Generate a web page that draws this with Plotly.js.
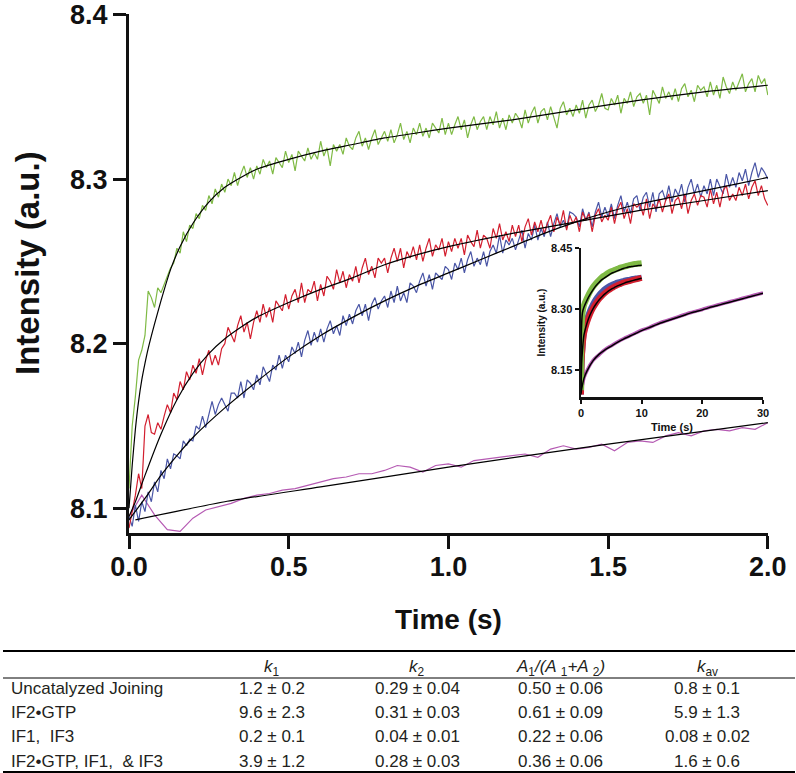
<!DOCTYPE html>
<html>
<head>
<meta charset="utf-8">
<script src="https://cdn.plot.ly/plotly-3.0.1.min.js"></script>
<style>
html,body{margin:0;padding:0;background:#fff;}
#chart{width:796px;height:773px;}
</style>
</head>
<body>
<div id="chart"></div>
<script>
// ---------------- main panel data (time step 0.01 s, from 0 to 2.0 s) ----------------
const greenData = [
8.112,8.150,8.168,8.190,8.196,8.205,8.232,8.228,8.222,8.234,
8.231,8.236,8.240,8.246,8.249,8.258,8.255,8.268,8.262,8.272,
8.270,8.279,8.276,8.284,8.281,8.290,8.285,8.294,8.289,8.297,
8.292,8.300,8.296,8.304,8.296,8.303,8.308,8.301,8.307,8.300,
8.308,8.303,8.312,8.307,8.311,8.303,8.313,8.310,8.307,8.317,
8.310,8.315,8.305,8.317,8.314,8.311,8.319,8.312,8.316,8.312,
8.323,8.314,8.319,8.308,8.321,8.317,8.321,8.315,8.325,8.320,
8.318,8.325,8.329,8.320,8.325,8.318,8.325,8.330,8.321,8.325,
8.329,8.323,8.330,8.322,8.327,8.334,8.324,8.329,8.322,8.331,
8.327,8.334,8.326,8.331,8.325,8.334,8.331,8.328,8.337,8.327,
8.334,8.327,8.333,8.338,8.330,8.336,8.325,8.333,8.338,8.330,
8.335,8.338,8.330,8.338,8.333,8.341,8.331,8.337,8.330,8.339,
8.334,8.340,8.337,8.331,8.342,8.334,8.340,8.344,8.334,8.341,
8.343,8.336,8.344,8.338,8.331,8.343,8.347,8.339,8.343,8.338,
8.345,8.340,8.348,8.337,8.345,8.348,8.341,8.345,8.352,8.343,
8.342,8.349,8.345,8.351,8.340,8.349,8.346,8.353,8.344,8.350,
8.352,8.346,8.351,8.339,8.354,8.350,8.346,8.356,8.349,8.353,
8.348,8.355,8.347,8.355,8.358,8.350,8.354,8.347,8.357,8.354,
8.356,8.350,8.359,8.351,8.357,8.349,8.362,8.356,8.352,8.359,
8.354,8.359,8.364,8.353,8.358,8.361,8.353,8.363,8.358,8.361,8.351
];
const redData = [
8.088,8.098,8.108,8.121,8.112,8.150,8.157,8.146,8.145,8.152,
8.148,8.156,8.163,8.158,8.170,8.166,8.177,8.172,8.183,8.178,
8.187,8.182,8.191,8.181,8.190,8.196,8.187,8.193,8.187,8.197,
8.200,8.210,8.206,8.201,8.211,8.217,8.207,8.213,8.203,8.213,
8.220,8.213,8.224,8.216,8.222,8.213,8.226,8.223,8.220,8.230,
8.221,8.229,8.233,8.225,8.237,8.225,8.233,8.231,8.238,8.226,
8.236,8.229,8.241,8.238,8.233,8.245,8.237,8.244,8.234,8.242,
8.238,8.247,8.237,8.246,8.252,8.242,8.247,8.240,8.252,8.249,
8.252,8.243,8.252,8.258,8.250,8.258,8.246,8.256,8.252,8.259,
8.251,8.260,8.250,8.258,8.264,8.253,8.260,8.257,8.264,8.253,
8.262,8.256,8.264,8.258,8.264,8.254,8.266,8.262,8.259,8.269,
8.258,8.266,8.264,8.258,8.270,8.264,8.273,8.263,8.268,8.262,
8.272,8.265,8.272,8.262,8.271,8.276,8.266,8.274,8.268,8.275,
8.267,8.273,8.278,8.268,8.277,8.272,8.281,8.269,8.278,8.273,
8.277,8.268,8.280,8.275,8.279,8.268,8.278,8.282,8.274,8.278,
8.275,8.283,8.273,8.282,8.286,8.276,8.282,8.273,8.285,8.283,
8.285,8.278,8.288,8.276,8.285,8.282,8.288,8.280,8.287,8.291,
8.279,8.287,8.289,8.282,8.291,8.279,8.287,8.291,8.284,8.290,
8.289,8.283,8.294,8.285,8.292,8.283,8.293,8.296,8.287,8.291,
8.287,8.295,8.290,8.297,8.288,8.295,8.299,8.290,8.296,8.288,8.284
];
const blueData = [
8.095,8.089,8.102,8.092,8.104,8.098,8.110,8.104,8.116,8.110,
8.123,8.118,8.130,8.124,8.133,8.132,8.130,8.141,8.138,8.142,
8.141,8.150,8.148,8.156,8.149,8.158,8.165,8.157,8.163,8.167,
8.163,8.159,8.170,8.170,8.167,8.177,8.167,8.178,8.176,8.172,
8.181,8.175,8.186,8.182,8.177,8.187,8.184,8.193,8.185,8.193,
8.189,8.198,8.194,8.201,8.192,8.202,8.208,8.199,8.207,8.201,
8.209,8.201,8.209,8.214,8.206,8.211,8.205,8.217,8.211,8.218,
8.212,8.220,8.224,8.217,8.224,8.214,8.224,8.228,8.221,8.226,
8.229,8.222,8.232,8.225,8.235,8.226,8.231,8.225,8.237,8.235,
8.231,8.238,8.243,8.235,8.242,8.233,8.243,8.241,8.239,8.247,
8.245,8.239,8.249,8.245,8.252,8.243,8.251,8.256,8.247,8.252,
8.248,8.256,8.247,8.256,8.260,8.255,8.266,8.255,8.263,8.260,
8.264,8.257,8.263,8.269,8.258,8.267,8.263,8.272,8.263,8.270,
8.265,8.274,8.265,8.273,8.279,8.271,8.275,8.270,8.280,8.279,
8.277,8.271,8.282,8.275,8.280,8.271,8.280,8.286,8.277,8.283,
8.277,8.285,8.276,8.284,8.290,8.280,8.286,8.279,8.288,8.290,
8.281,8.289,8.292,8.283,8.292,8.280,8.291,8.293,8.287,8.296,
8.286,8.294,8.290,8.297,8.286,8.295,8.300,8.291,8.297,8.289,
8.296,8.291,8.300,8.290,8.300,8.296,8.291,8.303,8.295,8.301,
8.295,8.304,8.299,8.306,8.296,8.304,8.310,8.301,8.307,8.304,8.300
];
// magenta trace: coarser sampling, step 0.04 s
const magentaData = [
8.095,8.108,8.096,8.087,8.086,8.094,8.099,8.101,8.103,8.106,
8.108,8.109,8.111,8.112,8.114,8.116,8.118,8.119,8.121,8.121,
8.123,8.126,8.125,8.122,8.126,8.127,8.125,8.129,8.130,8.131,
8.132,8.133,8.131,8.136,8.138,8.136,8.137,8.139,8.135,8.140,
8.141,8.140,8.144,8.146,8.144,8.147,8.148,8.147,8.149,8.148,8.152
];
// fitted curves (main panel)
const greenFitT = [0,0.01,0.02,0.03,0.04,0.05,0.06,0.08,0.10,0.13,0.16,0.20,0.25,0.30,0.35,0.40,0.50,0.60,0.70,0.80,0.90,1.00,1.20,1.40,1.60,1.80,2.00];
const greenFitV = [8.100,8.126,8.148,8.165,8.178,8.188,8.197,8.212,8.226,8.245,8.259,8.273,8.286,8.295,8.301,8.306,8.312,8.317,8.321,8.325,8.328,8.331,8.336,8.342,8.348,8.353,8.357];
const redFitT = [0,0.02,0.05,0.10,0.15,0.20,0.25,0.30,0.35,0.40,0.50,0.60,0.70,0.80,0.90,1.00,1.20,1.40,1.60,1.80,2.00];
const redFitV = [8.095,8.104,8.120,8.145,8.166,8.182,8.194,8.203,8.210,8.216,8.225,8.233,8.240,8.248,8.254,8.259,8.267,8.274,8.281,8.287,8.293];
const blueFitT = [0,0.05,0.10,0.15,0.20,0.30,0.40,0.50,0.60,0.70,0.80,0.90,1.00,1.10,1.20,1.30,1.40,1.50,1.60,1.70,1.80,1.90,2.00];
const blueFitV = [8.093,8.106,8.120,8.132,8.143,8.161,8.177,8.192,8.205,8.216,8.226,8.235,8.243,8.251,8.259,8.267,8.274,8.280,8.285,8.289,8.293,8.297,8.301];
const magentaFitT = [0.02,0.30,0.60,1.00,1.50,2.00];
const magentaFitV = [8.093,8.104,8.113,8.125,8.139,8.152];

// ---------------- inset data (0-30 s) ----------------
const insetFastT = [0,0.1,0.25,0.5,1,1.5,2,2.5,3,3.5,4,4.5,5,5.5,6,6.5,7,7.5,8,8.5,9,9.5,10];
const insetGreen    = [8.100,8.250,8.290,8.310,8.328,8.343,8.355,8.364,8.372,8.379,8.384,8.389,8.393,8.396,8.399,8.402,8.404,8.406,8.408,8.410,8.411,8.412,8.413];
const insetGreenFit = [8.100,8.260,8.292,8.305,8.322,8.336,8.348,8.358,8.366,8.373,8.378,8.383,8.388,8.391,8.394,8.397,8.400,8.402,8.404,8.405,8.406,8.407,8.408];
const insetBlue     = [8.090,8.170,8.210,8.245,8.275,8.296,8.312,8.325,8.335,8.343,8.350,8.355,8.359,8.362,8.365,8.367,8.369,8.371,8.372,8.374,8.375,8.376,8.377];
const insetRed      = [8.090,8.170,8.205,8.240,8.268,8.288,8.303,8.315,8.325,8.333,8.340,8.346,8.351,8.355,8.359,8.362,8.365,8.367,8.369,8.371,8.373,8.375,8.377];
const insetRedFit   = [8.090,8.165,8.200,8.237,8.266,8.286,8.301,8.313,8.323,8.331,8.338,8.344,8.349,8.353,8.357,8.360,8.363,8.366,8.368,8.370,8.372,8.374,8.376];
const insetSlowT = [0,0.5,1,2,3,4,5,6,7,8,9,10,11,12,13,14,15,16,17,18,19,20,21,22,23,24,25,26,27,28,29,30];
const insetMagenta    = [8.093,8.131,8.149,8.174,8.188,8.201,8.210,8.219,8.227,8.234,8.241,8.248,8.253,8.260,8.266,8.271,8.276,8.281,8.286,8.291,8.295,8.299,8.304,8.308,8.312,8.316,8.320,8.324,8.328,8.332,8.336,8.340];
const insetMagentaFit = [8.093,8.130,8.148,8.173,8.189,8.200,8.209,8.218,8.226,8.233,8.240,8.247,8.253,8.259,8.265,8.270,8.275,8.280,8.285,8.290,8.294,8.298,8.303,8.307,8.311,8.315,8.319,8.323,8.327,8.331,8.335,8.339];

// ---------------- table ----------------
const tableHeaders = ['<i>k</i><sub>1</sub>','<i>k</i><sub>2</sub>','<i>A</i><sub>1</sub><i>/(A </i><sub>1</sub><i>+A </i><sub>2</sub><i>)</i>','<i>k</i><sub>av</sub>'];
const rowLabels = ['Uncatalyzed Joining','IF2•GTP','IF1,  IF3','IF2•GTP, IF1,  & IF3'];
const k1Vals = ['1.2 ± 0.2','9.6 ± 2.3','0.2 ± 0.1','3.9 ± 1.2'];
const k2Vals = ['0.29 ± 0.04','0.31 ± 0.03','0.04 ± 0.01','0.28 ± 0.03'];
const ratioVals = ['0.50 ± 0.06','0.61 ± 0.09','0.22 ± 0.06','0.36 ± 0.06'];
const kavVals = ['0.8 ± 0.1','5.9 ± 1.3','0.08 ± 0.02','1.6 ± 0.6'];

// ---------------- styling ----------------
const W = 796, H = 773;
const fx = p => p / W, fy = p => 1 - p / H;
const FONT = 'Liberation Sans, Arial, Helvetica, sans-serif';
const GREEN = '#7fba45', RED = '#d31f2f', BLUE = '#4a56a6', MAGENTA = '#b55ab3';

const dataLine = c => ({color: c, width: 1.2});
const fitLine = {color: '#000', width: 1.2, shape: 'spline', smoothing: 0.6};

const traces = [
  {type:'scatter', mode:'lines', x0:0, dx:0.04, y:magentaData, line:dataLine(MAGENTA), xaxis:'x', yaxis:'y'},
  {type:'scatter', mode:'lines', x0:0, dx:0.01, y:blueData, line:dataLine(BLUE), xaxis:'x', yaxis:'y'},
  {type:'scatter', mode:'lines', x0:0, dx:0.01, y:redData, line:dataLine(RED), xaxis:'x', yaxis:'y'},
  {type:'scatter', mode:'lines', x0:0, dx:0.01, y:greenData, line:dataLine(GREEN), xaxis:'x', yaxis:'y'},
  {type:'scatter', mode:'lines', x:magentaFitT, y:magentaFitV, line:fitLine, xaxis:'x', yaxis:'y'},
  {type:'scatter', mode:'lines', x:blueFitT, y:blueFitV, line:fitLine, xaxis:'x', yaxis:'y'},
  {type:'scatter', mode:'lines', x:redFitT, y:redFitV, line:fitLine, xaxis:'x', yaxis:'y'},
  {type:'scatter', mode:'lines', x:greenFitT, y:greenFitV, line:fitLine, xaxis:'x', yaxis:'y'},
  // inset
  {type:'scatter', mode:'lines', x:insetSlowT, y:insetMagenta, line:{color:MAGENTA, width:3.5, shape:'spline'}, xaxis:'x2', yaxis:'y2'},
  {type:'scatter', mode:'lines', x:insetFastT, y:insetBlue, line:{color:BLUE, width:6, shape:'spline'}, xaxis:'x2', yaxis:'y2'},
  {type:'scatter', mode:'lines', x:insetFastT, y:insetRed, line:{color:RED, width:6, shape:'spline'}, xaxis:'x2', yaxis:'y2'},
  {type:'scatter', mode:'lines', x:insetFastT, y:insetGreen, line:{color:GREEN, width:6, shape:'spline'}, xaxis:'x2', yaxis:'y2'},
  {type:'scatter', mode:'lines', x:insetSlowT, y:insetMagentaFit, line:{color:'#000', width:1.5, shape:'spline'}, xaxis:'x2', yaxis:'y2'},
  {type:'scatter', mode:'lines', x:insetFastT, y:insetRedFit, line:{color:'#000', width:1.5, shape:'spline'}, xaxis:'x2', yaxis:'y2'},
  {type:'scatter', mode:'lines', x:insetFastT, y:insetGreenFit, line:{color:'#000', width:1.5, shape:'spline'}, xaxis:'x2', yaxis:'y2'}
];

const bigTick = {family: FONT, size: 27, color: '#111', weight: 700};
const smallTick = {family: FONT, size: 11, color: '#111', weight: 700};

const annotations = [];
// main y-axis title placed as rotated text
annotations.push({xref:'paper', yref:'paper', x:fx(27), y:fy(263), text:'Intensity (a.u.)', textangle:-90, showarrow:false, xanchor:'center', yanchor:'middle', font:{family: FONT, size: 33, color: '#111', weight: 700}});
const colX = [272, 417, 560, 707];
const headerY = 668, rowY = [688, 712, 736, 761];
const tfont = {family: FONT, size: 17, color: '#231f20'};
tableHeaders.forEach((h, i) => annotations.push({xref:'paper', yref:'paper', x:fx(colX[i]), y:fy(headerY), text:h, showarrow:false, xanchor:'center', yanchor:'middle', font:tfont}));
const cols = [k1Vals, k2Vals, ratioVals, kavVals];
rowLabels.forEach((lab, r) => {
  annotations.push({xref:'paper', yref:'paper', x:fx(9), y:fy(rowY[r]), text:lab, showarrow:false, xanchor:'left', yanchor:'middle', font:tfont});
  cols.forEach((c, i) => annotations.push({xref:'paper', yref:'paper', x:fx(colX[i]), y:fy(rowY[r]), text:c[r], showarrow:false, xanchor:'center', yanchor:'middle', font:tfont}));
});

const shapes = [
  {type:'line', xref:'paper', yref:'paper', x0:fx(3), x1:fx(795), y0:fy(651), y1:fy(651), line:{color:'#000', width:2}},
  {type:'line', xref:'paper', yref:'paper', x0:fx(3), x1:fx(795), y0:fy(678), y1:fy(678), line:{color:'#000', width:1}},
  {type:'line', xref:'paper', yref:'paper', x0:fx(3), x1:fx(795), y0:fy(772), y1:fy(772), line:{color:'#000', width:2}}
];

const layout = {
  width: W, height: H,
  margin: {l:0, r:0, t:0, b:0},
  paper_bgcolor: '#fff', plot_bgcolor: 'rgba(0,0,0,0)',
  showlegend: false,
  font: {family: FONT},
  xaxis: {
    domain: [fx(129), fx(768)], range: [0, 2.0005], anchor: 'y',
    tickvals: [0, 0.5, 1, 1.5, 2], tickformat: '.1f',
    ticks: 'outside', ticklen: 13, tickwidth: 3, tickcolor: '#111',
    showline: true, linewidth: 3, linecolor: '#111',
    showgrid: false, zeroline: false, tickfont: bigTick,
    ticklabelstandoff: -5, ticklabeloverflow: 'allow',
    title: {text: 'Time (s)', font: {family: FONT, size: 28, color: '#111', weight: 700}, standoff: 28}
  },
  yaxis: {
    domain: [fy(533), fy(14)], range: [8.085, 8.4003], anchor: 'x',
    tickvals: [8.1, 8.2, 8.3, 8.4], ticktext: ['8.1', '8.2', '8.3', '8.4'],
    ticks: 'outside', ticklen: 13, tickwidth: 3, tickcolor: '#111',
    showline: true, linewidth: 3, linecolor: '#111',
    showgrid: false, zeroline: false, tickfont: bigTick,
    ticklabeloverflow: 'allow'
  },
  xaxis2: {
    domain: [fx(581), fx(763)], range: [0, 30], anchor: 'y2',
    tickvals: [0, 10, 20, 30],
    ticks: 'outside', ticklen: 4, tickwidth: 2, tickcolor: '#111',
    showline: true, linewidth: 2.5, linecolor: '#111',
    showgrid: false, zeroline: false, tickfont: smallTick,
    ticklabeloverflow: 'allow',
    title: {text: 'Time (s)', font: smallTick, standoff: 6}
  },
  yaxis2: {
    domain: [fy(397), fy(248)], range: [8.0836, 8.4503], anchor: 'x2',
    tickvals: [8.15, 8.30, 8.45], ticktext: ['8.15', '8.30', '8.45'],
    ticks: 'outside', ticklen: 4, tickwidth: 2, tickcolor: '#111',
    showline: true, linewidth: 2.5, linecolor: '#111',
    showgrid: false, zeroline: false, tickfont: smallTick,
    ticklabeloverflow: 'allow',
    title: {text: 'Intensity (a.u.)', font: {family: FONT, size: 10, color: '#111', weight: 700}, standoff: 4}
  },
  annotations: annotations,
  shapes: shapes
};

Plotly.newPlot('chart', traces, layout, {staticPlot: true, displayModeBar: false});
</script>
</body>
</html>
